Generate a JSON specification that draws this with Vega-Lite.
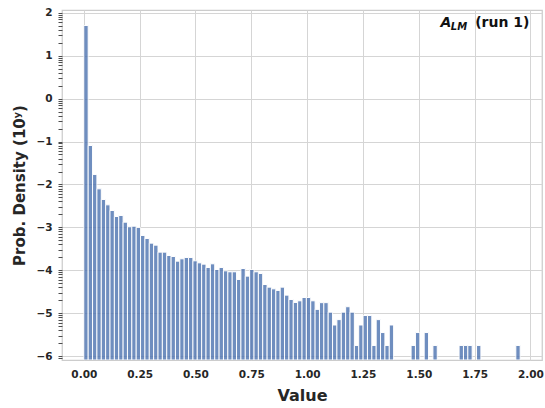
{
  "$schema": "https://vega.github.io/schema/vega-lite/v6.json",
  "autosize": "none",
  "width": 480,
  "height": 350,
  "padding": {"left": 62, "top": 10, "right": 3, "bottom": 48},
  "background": "white",
  "config": {
    "font": "DejaVu Sans",
    "view": {"stroke": "#cccccc", "strokeWidth": 1.25},
    "axis": {"gridColor": "#d5d5d5", "gridWidth": 1, "domain": false, "labelFont": "DejaVu Sans", "titleFont": "DejaVu Sans", "labelColor": "#262626", "titleColor": "#262626"}
  },
  "resolve": {"axis": {"x": "independent", "y": "independent"}},
  "datasets": {
    "bins": [
      {"start": 0.0000, "end": 0.0195, "logd": 1.705},
      {"start": 0.0195, "end": 0.0391, "logd": -1.093},
      {"start": 0.0391, "end": 0.0586, "logd": -1.768},
      {"start": 0.0586, "end": 0.0782, "logd": -2.103},
      {"start": 0.0782, "end": 0.0977, "logd": -2.351},
      {"start": 0.0977, "end": 0.1172, "logd": -2.476},
      {"start": 0.1172, "end": 0.1368, "logd": -2.608},
      {"start": 0.1368, "end": 0.1563, "logd": -2.748},
      {"start": 0.1563, "end": 0.1759, "logd": -2.724},
      {"start": 0.1759, "end": 0.1954, "logd": -2.880},
      {"start": 0.1954, "end": 0.2149, "logd": -2.988},
      {"start": 0.2149, "end": 0.2345, "logd": -2.973},
      {"start": 0.2345, "end": 0.2540, "logd": -3.004},
      {"start": 0.2540, "end": 0.2736, "logd": -3.190},
      {"start": 0.2736, "end": 0.2931, "logd": -3.260},
      {"start": 0.2931, "end": 0.3126, "logd": -3.369},
      {"start": 0.3126, "end": 0.3322, "logd": -3.416},
      {"start": 0.3322, "end": 0.3517, "logd": -3.579},
      {"start": 0.3517, "end": 0.3713, "logd": -3.579},
      {"start": 0.3713, "end": 0.3908, "logd": -3.657},
      {"start": 0.3908, "end": 0.4103, "logd": -3.680},
      {"start": 0.4103, "end": 0.4299, "logd": -3.789},
      {"start": 0.4299, "end": 0.4494, "logd": -3.734},
      {"start": 0.4494, "end": 0.4690, "logd": -3.703},
      {"start": 0.4690, "end": 0.4885, "logd": -3.703},
      {"start": 0.4885, "end": 0.5080, "logd": -3.781},
      {"start": 0.5080, "end": 0.5276, "logd": -3.828},
      {"start": 0.5276, "end": 0.5471, "logd": -3.859},
      {"start": 0.5471, "end": 0.5667, "logd": -3.936},
      {"start": 0.5667, "end": 0.5862, "logd": -3.851},
      {"start": 0.5862, "end": 0.6057, "logd": -3.983},
      {"start": 0.6057, "end": 0.6253, "logd": -3.936},
      {"start": 0.6253, "end": 0.6448, "logd": -4.014},
      {"start": 0.6448, "end": 0.6644, "logd": -4.037},
      {"start": 0.6644, "end": 0.6839, "logd": -4.037},
      {"start": 0.6839, "end": 0.7034, "logd": -4.216},
      {"start": 0.7034, "end": 0.7230, "logd": -3.960},
      {"start": 0.7230, "end": 0.7425, "logd": -4.138},
      {"start": 0.7425, "end": 0.7621, "logd": -3.983},
      {"start": 0.7621, "end": 0.7816, "logd": -4.037},
      {"start": 0.7816, "end": 0.8011, "logd": -4.076},
      {"start": 0.8011, "end": 0.8207, "logd": -4.333},
      {"start": 0.8207, "end": 0.8402, "logd": -4.395},
      {"start": 0.8402, "end": 0.8598, "logd": -4.434},
      {"start": 0.8598, "end": 0.8793, "logd": -4.472},
      {"start": 0.8793, "end": 0.8988, "logd": -4.395},
      {"start": 0.8988, "end": 0.9184, "logd": -4.581},
      {"start": 0.9184, "end": 0.9379, "logd": -4.682},
      {"start": 0.9379, "end": 0.9575, "logd": -4.752},
      {"start": 0.9575, "end": 0.9770, "logd": -4.713},
      {"start": 0.9770, "end": 0.9965, "logd": -4.636},
      {"start": 0.9965, "end": 1.0161, "logd": -4.636},
      {"start": 1.0161, "end": 1.0356, "logd": -4.713},
      {"start": 1.0356, "end": 1.0552, "logd": -4.913},
      {"start": 1.0552, "end": 1.0747, "logd": -4.756},
      {"start": 1.0747, "end": 1.0942, "logd": -4.756},
      {"start": 1.0942, "end": 1.1138, "logd": -4.978},
      {"start": 1.1138, "end": 1.1333, "logd": -5.277},
      {"start": 1.1333, "end": 1.1529, "logd": -5.152},
      {"start": 1.1529, "end": 1.1724, "logd": -4.978},
      {"start": 1.1724, "end": 1.1919, "logd": -4.851},
      {"start": 1.1919, "end": 1.2115, "logd": -4.978},
      {"start": 1.2115, "end": 1.2310, "logd": -5.754},
      {"start": 1.2310, "end": 1.2506, "logd": -5.277},
      {"start": 1.2506, "end": 1.2701, "logd": -5.055},
      {"start": 1.2701, "end": 1.2896, "logd": -5.055},
      {"start": 1.2896, "end": 1.3092, "logd": -5.754},
      {"start": 1.3092, "end": 1.3287, "logd": -5.152},
      {"start": 1.3287, "end": 1.3483, "logd": -5.453},
      {"start": 1.3483, "end": 1.3678, "logd": -5.754},
      {"start": 1.3678, "end": 1.3873, "logd": -5.277},
      {"start": 1.4655, "end": 1.4850, "logd": -5.754},
      {"start": 1.4850, "end": 1.5046, "logd": -5.453},
      {"start": 1.5241, "end": 1.5437, "logd": -5.453},
      {"start": 1.5632, "end": 1.5827, "logd": -5.754},
      {"start": 1.6804, "end": 1.7000, "logd": -5.754},
      {"start": 1.7000, "end": 1.7195, "logd": -5.754},
      {"start": 1.7195, "end": 1.7390, "logd": -5.754},
      {"start": 1.7586, "end": 1.7781, "logd": -5.754},
      {"start": 1.9345, "end": 1.9540, "logd": -5.754}
    ],
    "note": [{"label": "annotation"}]
  },
  "layer": [
    {
      "data": {"name": "bins"},
      "mark": {"type": "bar", "color": "#4C72B0", "opacity": 0.8, "stroke": "white", "strokeWidth": 1, "strokeOpacity": 1, "clip": true},
      "encoding": {
        "x": {
          "field": "start", "type": "quantitative",
          "scale": {"domain": [-0.0977, 2.0517], "nice": false, "zero": false},
          "axis": {
            "values": [0, 0.25, 0.5, 0.75, 1, 1.25, 1.5, 1.75, 2],
            "format": ".2f", "ticks": false, "tickSize": 0,
            "labelFontSize": 10.5, "labelFontWeight": "bold", "labelPadding": 9,
            "title": "Value", "titleFontSize": 16, "titleFontWeight": "bold", "titlePadding": 8
          }
        },
        "x2": {"field": "end"},
        "y": {
          "field": "logd", "type": "quantitative",
          "scale": {"domain": [-6.093, 2.066], "nice": false, "zero": false},
          "axis": {
            "values": [-6.04576, -6, -5.69897, -5.52288, -5.39794, -5.30103, -5.22185, -5.1549, -5.09691, -5.04576, -5, -4.69897, -4.52288, -4.39794, -4.30103, -4.22185, -4.1549, -4.09691, -4.04576, -4, -3.69897, -3.52288, -3.39794, -3.30103, -3.22185, -3.1549, -3.09691, -3.04576, -3, -2.69897, -2.52288, -2.39794, -2.30103, -2.22185, -2.1549, -2.09691, -2.04576, -2, -1.69897, -1.52288, -1.39794, -1.30103, -1.22185, -1.1549, -1.09691, -1.04576, -1, -0.69897, -0.52288, -0.39794, -0.30103, -0.22185, -0.1549, -0.09691, -0.04576, 0, 0.30103, 0.47712, 0.60206, 0.69897, 0.77815, 0.8451, 0.90309, 0.95424, 1, 1.30103, 1.47712, 1.60206, 1.69897, 1.77815, 1.8451, 1.90309, 1.95424, 2],
            "tickCount": 200,
            "tickMinStep": 0.001,
            "labelExpr": "datum.value % 1 === 0 ? format(datum.value, 'd') : ''",
            "labelOverlap": false,
            "gridOpacity": {"condition": {"test": "datum.value % 1 !== 0", "value": 0}, "value": 1},
            "ticks": true, "tickSize": 4, "tickColor": "#4d4d4d", "tickWidth": 1,
            "labelFontSize": 10.5, "labelFontWeight": "bold", "labelPadding": 6,
            "title": "Prob. Density (10ʸ)", "titleFontSize": 15, "titleFontWeight": "bold", "titlePadding": 8
          }
        },
        "y2": {"datum": -6.093}
      }
    },
    {
      "data": {"name": "note"},
      "mark": {"type": "text", "text": "A", "font": "DejaVu Sans", "fontSize": 14, "fontWeight": "bold", "fontStyle": "italic", "align": "left", "baseline": "alphabetic", "color": "#111111"},
      "encoding": {"x": {"datum": 1.597, "type": "quantitative", "axis": null}, "y": {"datum": 1.664, "type": "quantitative", "axis": null}}
    },
    {
      "data": {"name": "note"},
      "mark": {"type": "text", "text": "LM", "font": "DejaVu Sans", "fontSize": 10, "fontWeight": "bold", "fontStyle": "italic", "align": "left", "baseline": "alphabetic", "color": "#111111"},
      "encoding": {"x": {"datum": 1.6435, "type": "quantitative", "axis": null}, "y": {"datum": 1.611, "type": "quantitative", "axis": null}}
    },
    {
      "data": {"name": "note"},
      "mark": {"type": "text", "text": "(run 1)", "font": "DejaVu Sans", "fontSize": 14, "fontWeight": "bold", "align": "right", "baseline": "alphabetic", "color": "#111111"},
      "encoding": {"x": {"datum": 1.9955, "type": "quantitative", "axis": null}, "y": {"datum": 1.664, "type": "quantitative", "axis": null}}
    }
  ]
}
